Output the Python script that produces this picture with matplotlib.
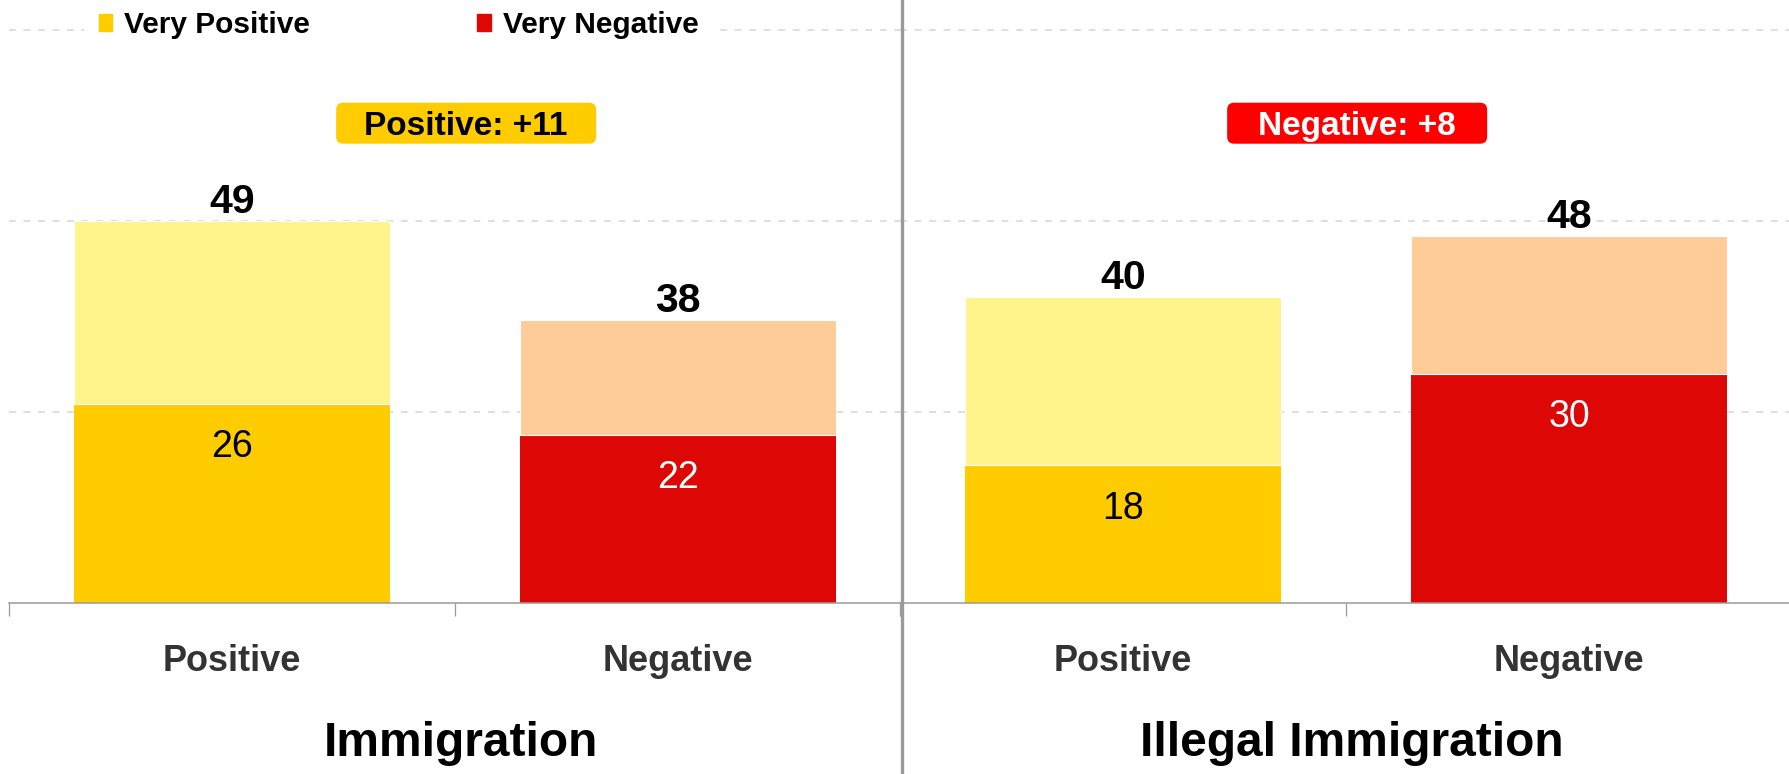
import matplotlib.pyplot as plt
from matplotlib.patches import Patch, FancyBboxPatch
from matplotlib.lines import Line2D
from matplotlib.transforms import ScaledTranslation

plt.rcParams['font.family'] = ['Liberation Sans', 'DejaVu Sans']

panels = ["Immigration", "Illegal Immigration"]
categories = ["Positive", "Negative"]
very_values = [[26, 22], [18, 30]]
somewhat_values = [[24, 15], [22, 18]]   # unlabelled light segments
total_labels = [[49, 38], [40, 48]]
badge_texts = ["Positive: +11", "Negative: +8"]

very_colors = ["#FFCC00", "#DD0806"]
light_colors = ["#FFF38C", "#FECC99"]
very_text_colors = ["black", "white"]
badge_colors = ["#FFCC00", "#FF0000"]
badge_text_colors = ["black", "white"]

W, H = 1789, 774
fig = plt.figure(figsize=(W / 100, H / 100), dpi=100)

base_px = 603      # pixel row of the zero line
unit_px = 7.64     # pixels per percentage point
ymax = 76
lefts = [9, 900]
width_px = 892

for i, name in enumerate(panels):
    ax = fig.add_axes([lefts[i] / W, (H - base_px) / H, width_px / W, ymax * unit_px / H])
    x = list(range(len(categories)))
    tops = [v + s for v, s in zip(very_values[i], somewhat_values[i])]
    ax.bar(x, very_values[i], width=0.71, color=very_colors, zorder=2)
    ax.bar(x, somewhat_values[i], bottom=very_values[i], width=0.71, color=light_colors,
           edgecolor="white", linewidth=0.8, zorder=2)

    for xi, top, lab, v, tc in zip(x, tops, total_labels[i], very_values[i], very_text_colors):
        ax.annotate(str(lab), (xi, top), xytext=(0, 0), textcoords="offset points",
                    ha="center", va="bottom", fontsize=29.5, fontweight="bold")
        ax.annotate(str(v), (xi, v), xytext=(0, -31), textcoords="offset points",
                    ha="center", va="center", fontsize=27, color=tc)

    # badge: fixed-size rounded box around the gap text
    bx, by = 0.525, 62.8
    box_tr = fig.dpi_scale_trans + ScaledTranslation(bx, by, ax.transData)
    ax.add_patch(FancyBboxPatch((-1.30, -0.205), 2.60, 0.41,
                                boxstyle="round,pad=0,rounding_size=0.07",
                                transform=box_tr, fc=badge_colors[i], ec="none", zorder=4))
    ax.text(bx, by, badge_texts[i], ha="center", va="center_baseline", fontsize=24,
            fontweight="bold", color=badge_text_colors[i], zorder=5)

    ax.set_xlim(-0.5, 1.5)
    ax.set_ylim(0, ymax)
    ax.set_yticks([25, 50, 75])
    ax.yaxis.grid(True, color="#d6d6d6", linewidth=1.1, linestyle=(0, (4.5, 5)), zorder=0)
    ax.tick_params(axis="y", left=False, labelleft=False)
    for s in ["top", "right", "left"]:
        ax.spines[s].set_visible(False)
    ax.spines["bottom"].set_color("#9a9a9a")
    ax.spines["bottom"].set_linewidth(1.1)

    ax.set_xticks([-0.5, 0.5, 1.5])
    ax.set_xticklabels([])
    ax.tick_params(axis="x", which="major", direction="out", length=9.5,
                   color="#9a9a9a", width=0.9)
    ax.set_xticks(x, minor=True)
    ax.set_xticklabels(categories, minor=True, fontsize=26, fontweight="bold", color="#333333")
    ax.tick_params(axis="x", which="minor", length=0, pad=29.5)

    ax.set_xlabel(name, fontsize=34.5, fontweight="bold", labelpad=30.5, x=0.507)

handles = [Patch(color=very_colors[0]), Patch(color=very_colors[1])]
leg = fig.legend(handles, ["Very Positive", "Very Negative"], ncol=2,
                 loc="center left", bbox_to_anchor=(0.047, 0.968),
                 prop={"size": 21.5, "weight": "bold"},
                 handlelength=0.45, handleheight=0.5, handletextpad=0.4,
                 columnspacing=5.6, frameon=True, fancybox=False,
                 facecolor="white", edgecolor="none", framealpha=1,
                 borderpad=0.5, borderaxespad=0)

fig.add_artist(Line2D([901.5 / W, 901.5 / W], [0, 1], transform=fig.transFigure,
                      color="#9a9a9a", linewidth=2.4))

fig.savefig("out.png", dpi=100)
